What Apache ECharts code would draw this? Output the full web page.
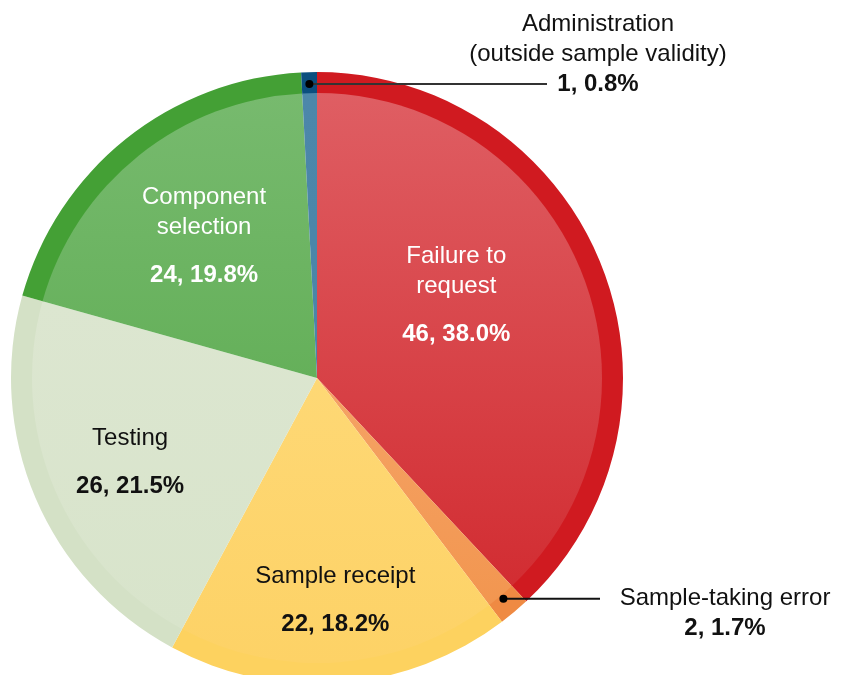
<!DOCTYPE html>
<html>
<head>
<meta charset="utf-8">
<script src="https://cdn.jsdelivr.net/npm/echarts@6/dist/echarts.min.js"></script>
<style>
  html, body { margin: 0; padding: 0; background: #fff; }
  #chart { width: 842px; height: 675px; }
</style>
</head>
<body>
<div id="chart"></div>
<script>
// 数据
const categories = ['Failure to request', 'Sample-taking error', 'Sample receipt', 'Testing', 'Component selection', 'Administration'];
const labelLines = [['Failure to', 'request'], ['Sample-taking error'], ['Sample receipt'], ['Testing'], ['Component', 'selection'], ['Administration', '(outside sample validity)']];
const counts = [46, 2, 22, 26, 24, 1];
const percents = ['38.0%', '1.7%', '18.2%', '21.5%', '19.8%', '0.8%'];

// 样式
const ringColors = ['#D01A20', '#EF8A43', '#FDD25F', '#D4E1C6', '#44A035', '#0B4F7F'];
const innerTop = ['#DF5E63', '#F5A365', '#FED875', '#DCE6D0', '#77BA6E', '#4C87AA'];
const innerBottom = ['#D22D32', '#F29650', '#FDD266', '#D8E4CB', '#65B05A', '#4A85A8'];
const textColors = ['#fff', '#111', '#111', '#111', '#fff', '#111'];
const insideLabel = [true, false, true, true, true, false];
const labelOffsets = [[4, -20], [0, 0], [7, 86], [-53, 36], [-22, -19], [0, 0]];
const FONT = '"Liberation Sans", Arial, Helvetica, sans-serif';

const chart = echarts.init(document.getElementById('chart'));

function richText(i) {
  return labelLines[i].map(l => '{n|' + l + '}').join('\n') + '\n{v|' + counts[i] + ', ' + percents[i] + '}';
}

const option = {
  animation: false,
  series: [
    {
      // 外圈
      type: 'pie',
      center: [317, 378],
      radius: [284, 306],
      startAngle: 90,
      clockwise: true,
      silent: true,
      z: 1,
      label: { show: false },
      labelLine: { show: false },
      itemStyle: { borderWidth: 0 },
      data: categories.map((c, i) => ({
        name: c,
        value: counts[i],
        itemStyle: { color: ringColors[i] }
      }))
    },
    {
      // 内部
      type: 'pie',
      center: [317, 378],
      radius: [0, 285],
      startAngle: 90,
      clockwise: true,
      silent: true,
      z: 2,
      labelLine: { show: false },
      itemStyle: { borderWidth: 0 },
      data: categories.map((c, i) => ({
        name: c,
        value: counts[i],
        itemStyle: {
          color: new echarts.graphic.LinearGradient(0, 0, 0, 1, [
            { offset: 0, color: innerTop[i] },
            { offset: 1, color: innerBottom[i] }
          ])
        },
        label: {
          show: insideLabel[i],
          position: 'inside',
          offset: labelOffsets[i],
          formatter: () => richText(i),
          rich: {
            n: { fontFamily: FONT, fontSize: 24, lineHeight: 30, color: textColors[i], align: 'center' },
            v: { fontFamily: FONT, fontSize: 24, fontWeight: 'bold', lineHeight: 66, color: textColors[i], align: 'center' }
          }
        }
      }))
    }
  ]
};
chart.setOption(option);

// 外部标注（引线）
const callouts = [
  { idx: 5, r: 294, lineTo: 547, textX: 598, dy: 15, vAlign: 'bottom', stroke: '#333' },
  { idx: 1, r: 289, lineTo: 600, textX: 725, dy: -15, vAlign: 'top', stroke: '#111' }
];
const pieData = chart.getModel().getSeriesByIndex(0).getData();
const graphics = [];
callouts.forEach(c => {
  const lay = pieData.getItemLayout(c.idx);
  const mid = (lay.startAngle + lay.endAngle) / 2;
  const ax = lay.cx + c.r * Math.cos(mid);
  const ay = lay.cy + c.r * Math.sin(mid);
  graphics.push({
    type: 'line', z: 10,
    shape: { x1: ax, y1: ay, x2: c.lineTo, y2: ay },
    style: { stroke: c.stroke, lineWidth: 2 }
  });
  graphics.push({
    type: 'circle', z: 11,
    shape: { cx: ax, cy: ay, r: 4 },
    style: { fill: '#000' }
  });
  graphics.push({
    type: 'text', z: 11,
    x: c.textX, y: ay + c.dy,
    style: {
      text: richText(c.idx).replace('{v|', '{w|'),
      align: 'center',
      verticalAlign: c.vAlign,
      rich: {
        n: { fontFamily: FONT, fontSize: 24, lineHeight: 30, fill: '#111', align: 'center' },
        w: { fontFamily: FONT, fontSize: 24, fontWeight: 'bold', lineHeight: 30, fill: '#111', align: 'center' }
      }
    }
  });
});
chart.setOption({ graphic: graphics });
</script>
</body>
</html>
